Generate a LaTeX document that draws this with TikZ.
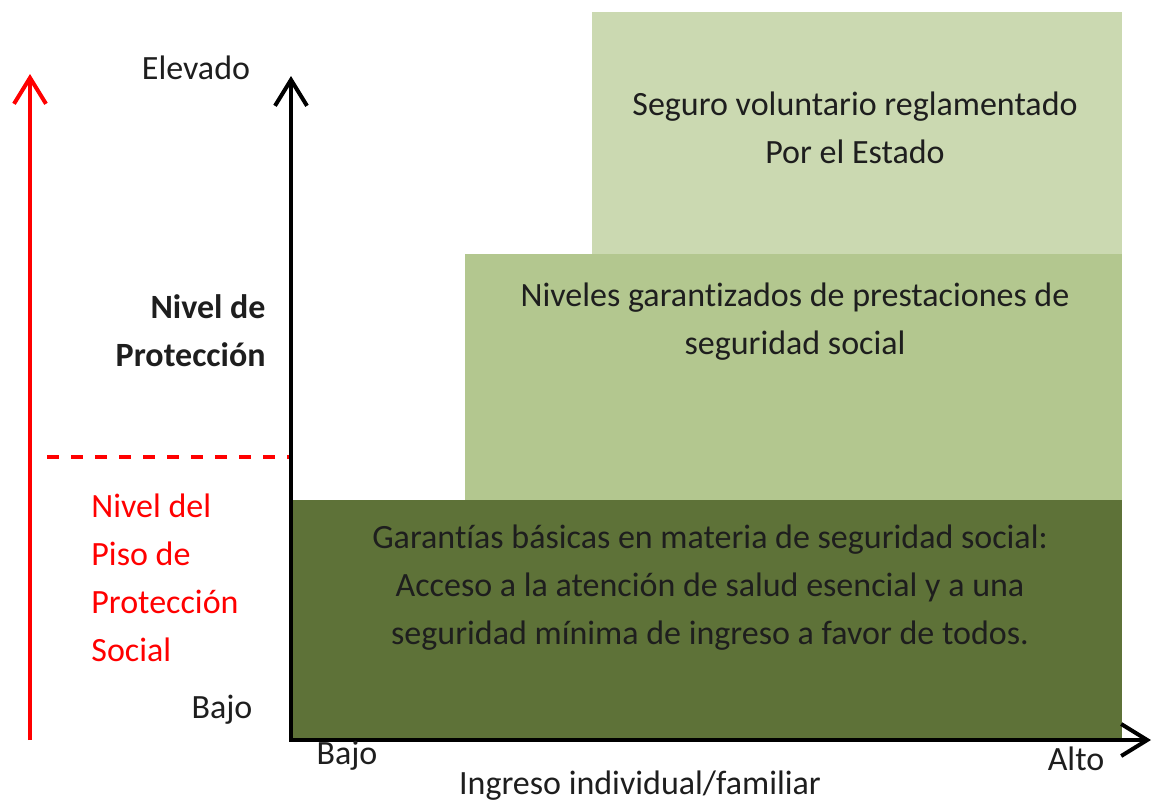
\documentclass[tikz,border=0pt]{standalone}
\usepackage{fontspec}
\setmainfont{Carlito}[Ligatures={NoCommon,NoContextual}]
\usetikzlibrary{arrows.meta}
\definecolor{gdark}{RGB}{94,114,56}
\definecolor{gmid}{RGB}{179,199,143}
\definecolor{glight}{RGB}{203,217,177}
\definecolor{txt}{RGB}{30,30,30}
\tikzset{
  box/.style={draw=none, inner sep=0pt, anchor=north west},
  lbl/.style={inner sep=0pt, text=txt, font=\fontsize{17}{24}\selectfont, align=center},
  axis/.style={line width=2pt, -{Straight Barb[length=13pt,width=16pt,line width=2pt]}},
}
\begin{document}
\begin{tikzpicture}[x=0.5pt,y=-0.5pt]
\useasboundingbox (0,0) rectangle (1155,805);
% boxes
\node[box, fill=glight, minimum width=265pt, minimum height=121pt] (top) at (592,12) {};
\node[box, fill=gmid, minimum width=328.5pt, minimum height=123pt] (mid) at (465,254) {};
\node[box, fill=gdark, minimum width=414.5pt, minimum height=119.5pt] (bot) at (293,500) {};
% box texts
\node[lbl] (ttop) at (855,128) {Seguro voluntario reglamentado\\Por el Estado};
\node[lbl] (tmid) at (795,322) {Niveles garant\kern0pt izados de prestaciones de\\seguridad social};
\node[lbl] (tbot) at (710,588) {Garant\kern0pt ías básicas en materia de seguridad social:\\Acceso a la atención de salud esencial y a una\\seguridad mínima de ingreso a favor de todos.};
% axes
\coordinate (o) at (291,740);
\coordinate (ytip) at (291,76);
\coordinate (xtip) at (1151,740);
\draw[axis] (o) -- (ytip);
\draw[axis] ([xshift=-1pt]o) -- (xtip);
% red arrow
\coordinate (rb) at (30,740);
\coordinate (rt) at (30,74);
\draw[axis, red] (rb) -- (rt);
% dashed line
\coordinate (d1) at (47,457);
\coordinate (d2) at (289,457);
\draw[red, line width=2pt, dash pattern=on 6pt off 6pt] (d1) -- (d2);
% labels
\node[lbl] (elev) at (196,68) {Elevado};
\node[lbl, font=\fontsize{17}{24}\selectfont\bfseries, align=right, anchor=east] (niv) at (266,331) {Nivel de\\Protección};
\node[lbl, text=red, align=left, anchor=west] (piso) at (91,578) {Nivel del\\Piso de\\Protección\\Social};
\node[lbl] (bajoy) at (222,710) {Bajo};
\node[lbl] (bajox) at (347,756) {Bajo};
\node[lbl] (alto) at (1076,759) {Alto};
\node[lbl] (ing) at (640,786) {Ingreso individual/familiar};
\end{tikzpicture}
\end{document}
